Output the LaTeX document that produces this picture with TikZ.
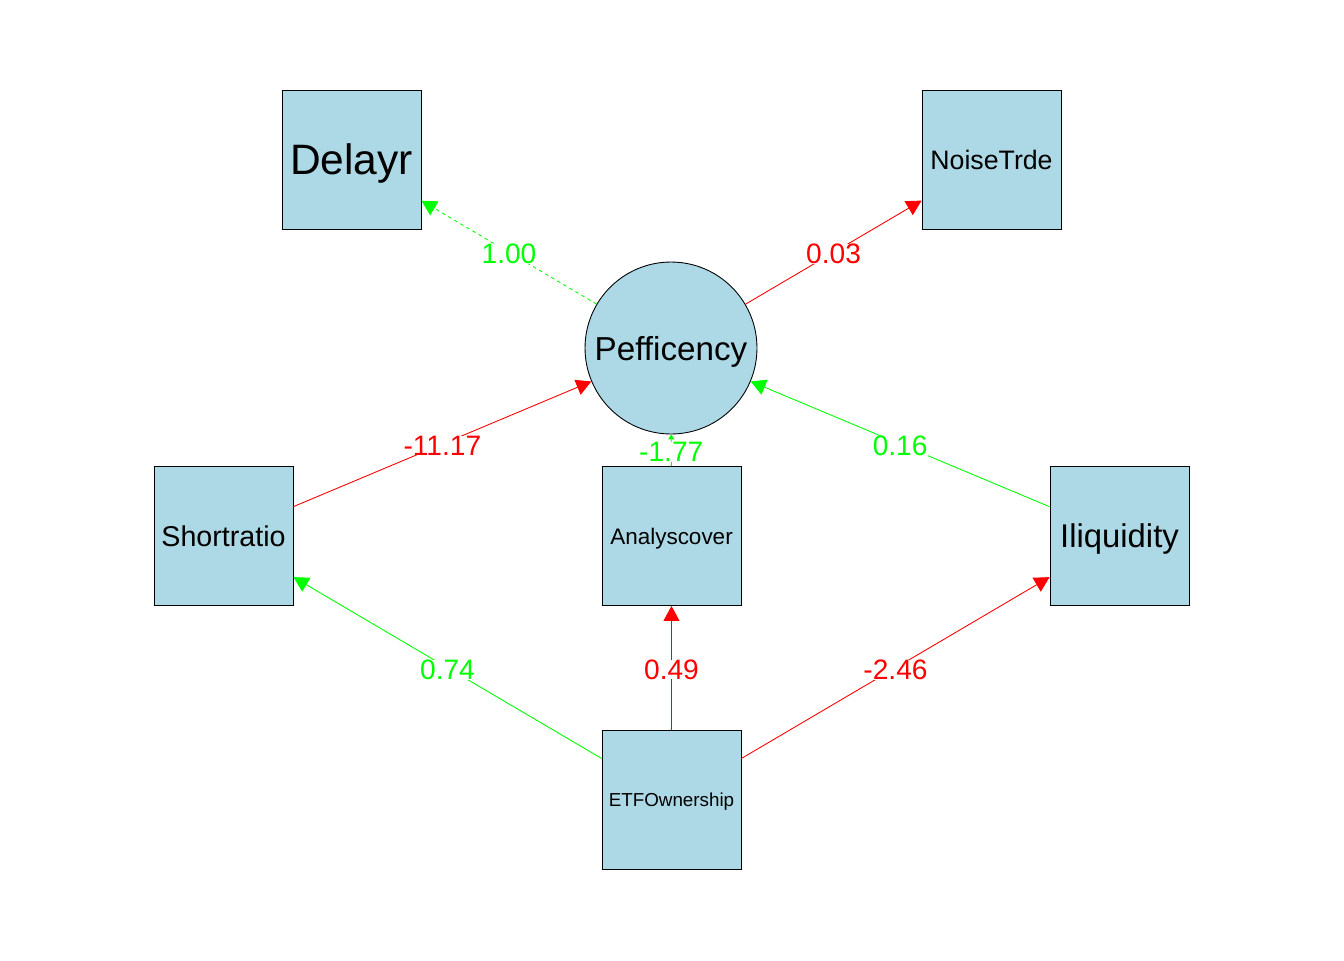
\documentclass[tikz,border=0pt]{standalone}
\usepackage{fontspec}
\setmainfont{Liberation Sans}
\usetikzlibrary{arrows.meta}
\definecolor{semFill}{HTML}{ADD8E6}
\definecolor{semPos}{HTML}{00FF00}
\definecolor{semNeg}{HTML}{FF0000}
\tikzset{
  manifest/.style={draw, fill=semFill, minimum size=2.78cm, inner sep=0pt, text depth=0pt, line width=0.5pt},
  latent/.style={circle, draw, fill=semFill, minimum size=3.44cm, inner sep=0pt, text depth=0pt, line width=0.5pt},
  posedge/.style={-{Triangle[length=3mm, width=3.2mm]}, semPos, line width=0.5pt},
  negedge/.style={-{Triangle[length=3mm, width=3.2mm]}, semNeg, line width=0.5pt},
  coef/.style={font=\fontsize{16}{18}\selectfont, fill=white, inner sep=0pt, yshift=-1pt}
}
\begin{document}
\begin{tikzpicture}[x=0.02cm, y=-0.02cm]
  \useasboundingbox (0,0) rectangle (1344,960);
  % latent variable
  \node[latent, font=\fontsize{18.9}{21}\selectfont] (peff) at (671,348) {Pefficency};
  % observed variables
  \node[manifest, font=\fontsize{24.2}{27}\selectfont] (delay) at (351.5,159.5) {Delayr};
  \node[manifest, font=\fontsize{15.2}{17}\selectfont] (noise) at (991.5,159.5) {NoiseTrde};
  \node[manifest, font=\fontsize{16.3}{18}\selectfont] (short) at (223.5,536) {Shortratio};
  \node[manifest, font=\fontsize{12.8}{14}\selectfont] (analys) at (671.5,536) {Analyscover};
  \node[manifest, font=\fontsize{18.7}{21}\selectfont] (illiq) at (1119.5,536) {Iliquidity};
  \node[manifest, font=\fontsize{10.7}{12}\selectfont] (etf) at (671.5,799.5) {ETFOwnership};
  % paths
  \draw[posedge, dash pattern=on 2pt off 2pt] (peff) -- node[coef] {1.00} (delay);
  \foreach \s/\e/\st/\v in {peff/noise/negedge/0.03, short/peff/negedge/-11.17,
      illiq/peff/posedge/0.16, etf/short/posedge/0.74, etf/analys/negedge/0.49,
      etf/illiq/negedge/-2.46}
    \draw[\st] (\s) -- node[coef] {\v} (\e);
  \draw[semPos, line width=0.5pt, -{Triangle[length=1mm, width=1.2mm]}] (analys) -- node[coef] {-1.77} (peff);
\end{tikzpicture}
\end{document}
